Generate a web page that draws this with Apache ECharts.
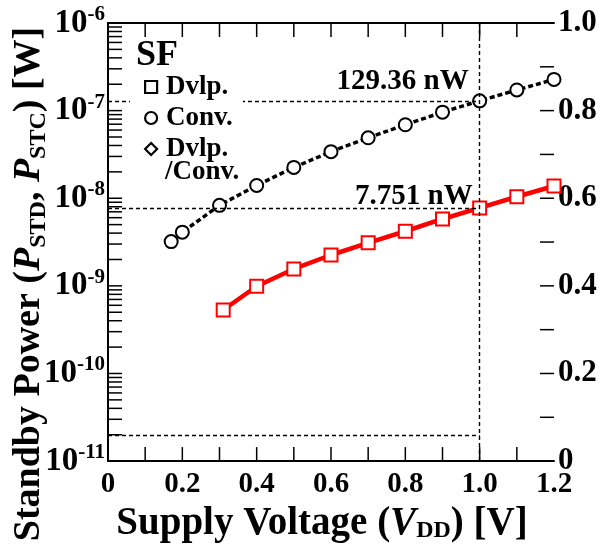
<!DOCTYPE html>
<html>
<head>
<meta charset="utf-8">
<script src="https://cdn.jsdelivr.net/npm/echarts@6/dist/echarts.min.js"></script>
<style>
  html, body { margin: 0; padding: 0; background: #fff; }
  #chart { width: 603px; height: 548px; }
</style>
</head>
<body>
<div id="chart"></div>
<script>
// data
const voltsConv = [0.17, 0.2, 0.3, 0.4, 0.5, 0.6, 0.7, 0.8, 0.9, 1.0, 1.1, 1.2];
const powerConv = [3.2e-9, 4.1e-9, 8.3e-9, 1.4e-8, 2.25e-8, 3.4e-8, 4.9e-8, 6.9e-8, 9.6e-8, 1.2936e-7, 1.72e-7, 2.27e-7];
const voltsDvlp = [0.31, 0.4, 0.5, 0.6, 0.7, 0.8, 0.9, 1.0, 1.1, 1.2];
const powerDvlp = [5.3e-10, 9.9e-10, 1.56e-9, 2.25e-9, 3.1e-9, 4.2e-9, 5.8e-9, 7.751e-9, 1.04e-8, 1.38e-8];
const refVolt = 1.0;
const refConv = 129.36e-9;
const refDvlp = 7.751e-9;
const refRatio = refDvlp / refConv;
const refLabels = ['129.36 nW', '7.751 nW'];
const seriesNames = ['Dvlp.', 'Conv.', 'Dvlp./Conv.'];

// tick positions
const xTicks = [0.1, 0.2, 0.3, 0.4, 0.5, 0.6, 0.7, 0.8, 0.9, 1.0, 1.1];
const rightTicks = [0.1, 0.2, 0.3, 0.4, 0.5, 0.6, 0.7, 0.8, 0.9];
const logDecades = [-11, -10, -9, -8, -7];
const logMantissa = [1, 2, 3, 4, 5, 6, 7, 8, 9];
const leftTicks = [];
logDecades.forEach(e => logMantissa.forEach(m => leftTicks.push([0, m * Math.pow(10, e)])));

const FONT = 'Liberation Serif';
const TICK = 14;
const Y_MIN = 1e-11, Y_MAX = 1e-6;
const tickStyle = { stroke: '#000', lineWidth: 1.5 };
const dash = { color: '#000', width: 1.4, type: [4, 3] };
const evenLabel = v => {
  const k = Math.round(v * 10);
  if (k % 2 !== 0) return '';
  return k === 0 ? '0' : v.toFixed(1);
};
const tickLine = (x1, y1, x2, y2) => ({ type: 'line', shape: { x1, y1, x2, y2 }, style: tickStyle });

const chart = echarts.init(document.getElementById('chart'));
chart.setOption({
  animation: false,
  textStyle: { fontFamily: FONT, fontWeight: 'bold', color: '#000' },
  title: {
    text: 'SF', left: 136, top: 38, padding: 0,
    textStyle: { fontFamily: FONT, fontSize: 36, fontWeight: 'bold', color: '#000' }
  },
  legend: {
    orient: 'vertical', left: 130, top: 67,
    padding: [6, 10, 24, 14],
    backgroundColor: '#fff',
    itemWidth: 12, itemHeight: 12, itemGap: 3,
    data: [
      { name: seriesNames[0], icon: 'rect' },
      { name: seriesNames[1], icon: 'circle' },
      { name: seriesNames[2], icon: 'diamond' }
    ],
    formatter: n => (n === seriesNames[2] ? 'Dvlp.' : n),
    itemStyle: { color: '#fff', borderColor: '#000', borderWidth: 2.2 },
    textStyle: { fontFamily: FONT, fontSize: 27, fontWeight: 'bold', color: '#000', lineHeight: 28, padding: [0, 0, 0, 4] },
    selectedMode: false, z: 10
  },
  graphic: [{
    type: 'text', left: 165, top: 159, z: 100,
    style: { text: '/Conv.', font: 'bold 27px "Liberation Serif"', fill: '#000' }
  }, {
    // y axis title, rotated
    type: 'text', x: 29, y: 284, rotation: Math.PI / 2, z: 100,
    style: {
      text: 'Standby Power ({i|P}{s|STD}, {i|P}{s|STC}) [W]',
      font: 'bold 38px "Liberation Serif"', fill: '#000',
      align: 'center', verticalAlign: 'middle',
      rich: {
        i: { fontFamily: FONT, fontSize: 38, fontWeight: 'bold', fontStyle: 'italic', fill: '#000' },
        s: { fontFamily: FONT, fontSize: 24, fontWeight: 'bold', fill: '#000', padding: [19, 0, 0, 0] }
      }
    }
  }],
  grid: { left: 108, right: 49, top: 23, bottom: 80 },
  xAxis: [{
    type: 'value', min: 0, max: 1.2, interval: 0.1,
    axisLine: { lineStyle: { color: '#000', width: 2 } },
    axisTick: { show: false },
    splitLine: { show: false },
    axisLabel: { margin: 9, fontFamily: FONT, fontSize: 29, fontWeight: 'bold', color: '#000', formatter: evenLabel },
    name: 'Supply Voltage ({i|V}{s|DD}) [V]',
    nameLocation: 'middle', nameGap: 33,
    nameTextStyle: {
      fontFamily: FONT, fontSize: 39, lineHeight: 38, fontWeight: 'bold', color: '#000', padding: [0, 18, 0, 0],
      rich: {
        i: { fontFamily: FONT, fontSize: 39, lineHeight: 38, fontWeight: 'bold', fontStyle: 'italic', color: '#000' },
        s: { fontFamily: FONT, fontSize: 24, lineHeight: 24, fontWeight: 'bold', color: '#000', padding: [14, 0, 0, 0] }
      }
    }
  }, {
    type: 'value', min: 0, max: 1.2, interval: 0.1, position: 'top',
    axisLine: { lineStyle: { color: '#000', width: 2 } },
    axisTick: { show: false },
    axisLabel: { show: false }, splitLine: { show: false }
  }],
  yAxis: [{
    type: 'log', logBase: 10, min: Y_MIN, max: Y_MAX,
    axisLine: { show: true, lineStyle: { color: '#000', width: 2 } },
    axisTick: { show: false },
    splitLine: { show: false },
    axisLabel: {
      margin: 3, fontFamily: FONT, fontSize: 33, fontWeight: 'bold', color: '#000',
      formatter: v => '10{sup|' + Math.round(Math.log10(v)) + '}',
      rich: { sup: { fontFamily: FONT, fontSize: 21, fontWeight: 'bold', color: '#000', padding: [0, 0, 17, 0] } }
    }
  }, {
    type: 'value', min: 0, max: 1.0, interval: 0.1, position: 'right',
    axisLine: { show: true, lineStyle: { color: '#000', width: 2 } },
    axisTick: { show: false },
    splitLine: { show: false },
    axisLabel: { margin: 4, fontFamily: FONT, fontSize: 31, fontWeight: 'bold', color: '#000', formatter: evenLabel }
  }],
  series: [{
    name: seriesNames[0], type: 'line', xAxisIndex: 0, yAxisIndex: 0,
    data: voltsDvlp.map((x, i) => [x, powerDvlp[i]]),
    symbol: 'rect', symbolSize: 13,
    lineStyle: { color: '#ff0000', width: 4.5 },
    itemStyle: { color: '#fff', borderColor: '#ff0000', borderWidth: 2 },
    z: 3,
    markLine: {
      silent: true, symbol: 'none', lineStyle: dash,
      label: {
        position: 'insideEndTop', distance: [7, -3], fontFamily: FONT, fontSize: 29,
        fontWeight: 'bold', color: '#000', formatter: refLabels[1]
      },
      data: [[{ coord: [0, refDvlp] }, { coord: [refVolt, refDvlp] }]]
    }
  }, {
    name: seriesNames[1], type: 'line', xAxisIndex: 0, yAxisIndex: 0,
    data: voltsConv.map((x, i) => [x, powerConv[i]]),
    symbol: 'circle', symbolSize: 13,
    lineStyle: { color: '#000', width: 3.5, type: [5, 3] },
    itemStyle: { color: '#fff', borderColor: '#000', borderWidth: 2 },
    z: 3,
    markLine: {
      silent: true, symbol: 'none', lineStyle: dash,
      label: {
        position: 'insideEndTop', distance: [11, 5], fontFamily: FONT, fontSize: 29,
        fontWeight: 'bold', color: '#000', formatter: refLabels[0]
      },
      data: [
        [{ coord: [0, refConv] }, { coord: [refVolt, refConv] }],
        [{ coord: [refVolt, Y_MIN], label: { show: false } }, { coord: [refVolt, Y_MAX] }]
      ]
    }
  }, {
    name: seriesNames[2], type: 'line', xAxisIndex: 0, yAxisIndex: 1,
    data: [],
    symbol: 'diamond', symbolSize: 12,
    itemStyle: { color: '#fff', borderColor: '#000', borderWidth: 2 },
    markLine: {
      silent: true, symbol: 'none', lineStyle: dash, label: { show: false },
      data: [[{ coord: [0, refRatio] }, { coord: [refVolt, refRatio] }]]
    }
  }, {
    // left log-axis ticks (decades and 2..9)
    type: 'custom', xAxisIndex: 0, yAxisIndex: 0, silent: true,
    data: leftTicks,
    renderItem: (params, api) => {
      const p = api.coord([api.value(0), api.value(1)]);
      return tickLine(p[0], p[1], p[0] + TICK, p[1]);
    }
  }, {
    type: 'custom', xAxisIndex: 0, yAxisIndex: 0, silent: true,
    data: xTicks.map(x => [x, 1e-9]),
    renderItem: (params, api) => {
      const b = api.coord([api.value(0), Y_MIN]);
      const t = api.coord([api.value(0), Y_MAX]);
      return {
        type: 'group',
        children: [tickLine(b[0], b[1], b[0], b[1] - TICK), tickLine(t[0], t[1], t[0], t[1] + TICK)]
      };
    }
  }, {
    // right axis ticks
    type: 'custom', xAxisIndex: 0, yAxisIndex: 1, silent: true,
    data: rightTicks.map(v => [1.2, v]),
    renderItem: (params, api) => {
      const p = api.coord([api.value(0), api.value(1)]);
      return tickLine(p[0], p[1], p[0] - TICK, p[1]);
    }
  }]
});
</script>
</body>
</html>
